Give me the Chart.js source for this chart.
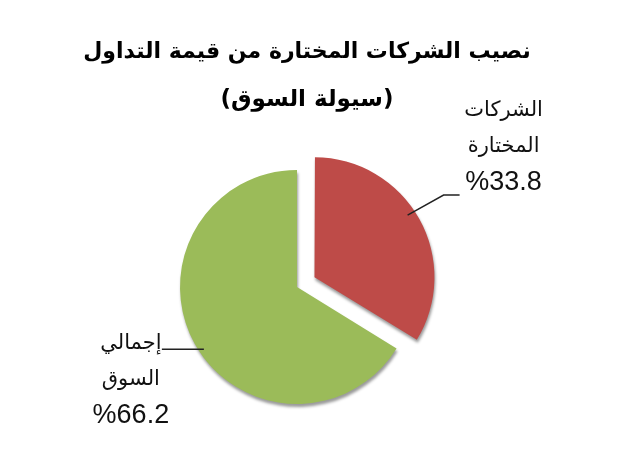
<!DOCTYPE html>
<html lang="ar">
<head>
<meta charset="utf-8">
<title>نصيب الشركات المختارة من قيمة التداول</title>
<script src="https://cdn.jsdelivr.net/npm/chart.js@4"></script>
<style>
  html, body { margin: 0; padding: 0; background: #fff; }
  #wrap { width: 636px; height: 450px; }
</style>
</head>
<body>
<div id="wrap"><canvas id="pieChart" width="636" height="450"></canvas></div>
<script>
// data
const categories = ["الشركات المختارة", "إجمالي السوق"];
const labelLines = [["الشركات", "المختارة"], ["إجمالي", "السوق"]];
const shares = [33.8, 66.2];
const titleLines = ["نصيب الشركات المختارة من قيمة التداول", "(سيولة السوق)"];

const sliceColors = ["#be4b48", "#9bbb59"];
const arabicFont = "'DejaVu Sans', sans-serif";

// title drawn at its own spot (it is not centred on the pie)
const titlePlugin = {
  id: "titleText",
  afterDraw(chart) {
    const ctx = chart.ctx;
    ctx.save();
    ctx.fillStyle = "#000";
    ctx.textAlign = "center";
    ctx.textBaseline = "middle";
    ctx.font = "bold 22px " + arabicFont;
    ctx.fillText(titleLines[0], 307, 52);
    ctx.font = "bold 23px " + arabicFont;
    ctx.fillText(titleLines[1], 307, 100);
    ctx.restore();
  },
};

// soft shadow under the slices
const shadowPlugin = {
  id: "sliceShadow",
  beforeDatasetsDraw(chart) {
    const ctx = chart.ctx;
    ctx.save();
    ctx.shadowColor = "rgba(0,0,0,0.4)";
    ctx.shadowBlur = 3;
    ctx.shadowOffsetX = 1;
    ctx.shadowOffsetY = 3;
  },
  afterDatasetsDraw(chart) {
    chart.ctx.restore();
  },
};

// labels with leader lines
const labelPlugin = {
  id: "leaderLabels",
  afterDraw(chart) {
    const ctx = chart.ctx;
    const meta = chart.getDatasetMeta(0);
    meta.data.forEach(function (arc, i) {
      const p = arc.getProps(["x", "y", "startAngle", "endAngle", "outerRadius"], true);
      const mid = (p.startAngle + p.endAngle) / 2;
      const off = (arc.options.offset || 0) / 4;
      const cx = p.x + Math.cos(mid) * off;
      const cy = p.y + Math.sin(mid) * off;
      // leader sits a little before the slice middle, as in the picture
      const a = mid - 0.08;
      const r = p.outerRadius - 5;
      const ax = cx + Math.cos(a) * r;
      const ay = cy + Math.sin(a) * r;
      const right = Math.cos(mid) >= 0;

      ctx.save();
      ctx.strokeStyle = "#222";
      ctx.lineWidth = 1.5;
      ctx.beginPath();
      ctx.moveTo(ax, ay);
      let tx, baseY;
      if (right) {
        ctx.lineTo(ax + 36, ay - 20);
        ctx.lineTo(ax + 52, ay - 20);
        tx = ax + 96;
        baseY = ay - 32;
      } else {
        ctx.lineTo(ax - 42, ay);
        tx = ax - 73;
        baseY = ay + 66;
      }
      ctx.stroke();

      ctx.fillStyle = "#111";
      ctx.textAlign = "center";
      ctx.textBaseline = "middle";
      const lines = labelLines[i].concat(["%" + shares[i].toFixed(1)]);
      const step = 36;
      for (let k = 0; k < lines.length; k++) {
        const y = baseY - (lines.length - 1 - k) * step;
        ctx.font = k === lines.length - 1 ? "27px 'Liberation Sans', sans-serif" : "21px " + arabicFont;
        ctx.fillText(lines[k], tx, y);
      }
      ctx.restore();
    });
  },
};

new Chart(document.getElementById("pieChart"), {
  type: "pie",
  data: {
    labels: categories,
    datasets: [
      {
        data: shares,
        backgroundColor: sliceColors,
        borderWidth: 0,
        offset: [80, 0],
        radius: 117,
      },
    ],
  },
  options: {
    responsive: false,
    animation: false,
    devicePixelRatio: 1,
    layout: {
      padding: { left: 100, right: 142, top: 160, bottom: 36 },
    },
    plugins: {
      legend: { display: false },
      tooltip: { enabled: false },
      title: { display: false },
    },
  },
  plugins: [shadowPlugin, titlePlugin, labelPlugin],
});
</script>
</body>
</html>
